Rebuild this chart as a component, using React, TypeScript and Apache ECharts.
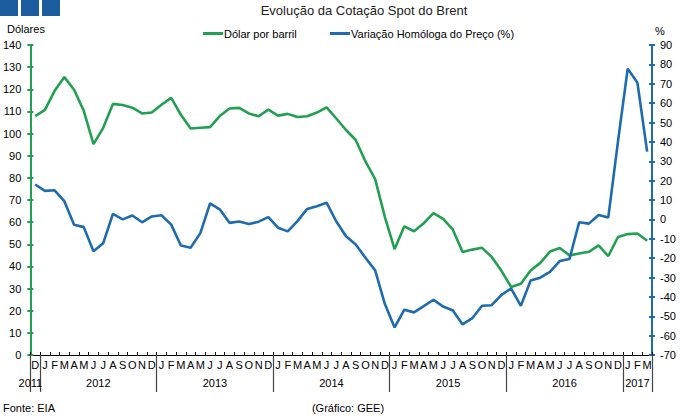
import React, { useEffect, useRef } from "react";
import * as echarts from "echarts";

const monthLabels = [
  "D",
  "J", "F", "M", "A", "M", "J", "J", "A", "S", "O", "N", "D",
  "J", "F", "M", "A", "M", "J", "J", "A", "S", "O", "N", "D",
  "J", "F", "M", "A", "M", "J", "J", "A", "S", "O", "N", "D",
  "J", "F", "M", "A", "M", "J", "J", "A", "S", "O", "N", "D",
  "J", "F", "M", "A", "M", "J", "J", "A", "S", "O", "N", "D",
  "J", "F", "M",
];

const brentPrice = [
  107.9,
  110.7, 119.3, 125.5, 119.8, 110.3, 95.2, 102.6, 113.4, 112.9, 111.7, 109.1, 109.5,
  113.0, 116.1, 108.5, 102.3, 102.6, 102.9, 107.9, 111.3, 111.6, 109.1, 107.8, 110.8,
  108.1, 108.9, 107.5, 107.8, 109.5, 111.8, 106.8, 101.6, 97.1, 87.4, 79.4, 62.3,
  47.8, 58.1, 55.9, 59.5, 64.1, 61.5, 56.6, 46.5, 47.6, 48.4, 44.3, 38.0,
  30.7, 32.2, 38.2, 41.6, 46.7, 48.3, 45.0, 45.8, 46.6, 49.5, 44.7, 53.3,
  54.6, 54.9, 51.6,
];

const yoyChange = [
  18.0,
  14.7, 15.0, 9.4, -2.8, -4.0, -16.4, -12.3, 2.8, 0.0, 2.0, -1.5, 1.5,
  2.1, -2.7, -13.5, -14.6, -7.1, 8.2, 5.2, -1.8, -1.1, -2.4, -1.2, 1.2,
  -4.3, -6.2, -0.9, 5.4, 6.8, 8.6, -1.1, -8.7, -13.0, -19.8, -26.3, -43.7,
  -55.8, -46.6, -48.0, -44.8, -41.5, -45.0, -47.0, -54.2, -51.0, -44.6, -44.3, -39.0,
  -35.7, -44.6, -31.6, -30.1, -27.1, -21.5, -20.5, -1.5, -2.2, 2.3, 1.0, 40.3,
  77.8, 70.5, 35.0,
];

const yearLabels = ["2011", "2012", "2013", "2014", "2015", "2016", "2017"];
const yearLabelPos = [0, 7, 19, 31, 43, 55, 62.5];
const yearBoundaries = [0, 1, 13, 25, 37, 49, 61, 64];

const seriesNames = ["Dólar por barril", "Variação Homóloga do Preço (%)"];

const FONT = "Arial, 'Liberation Sans', sans-serif";
const GREEN = "#22A052";
const BLUE = "#1E6BB0";

export default function App() {
  const ref = useRef<HTMLDivElement>(null);

  useEffect(() => {
    if (!ref.current) return;
    const chart = echarts.init(ref.current, undefined, { renderer: "svg" });
    const txt = { fontFamily: FONT, fontSize: 11, color: "#000" };

    chart.setOption({
      animation: false,
      backgroundColor: "#fff",
      textStyle: { fontFamily: FONT },
      grid: { left: 29, right: 28, top: 45, bottom: 62, containLabel: false },
      legend: [
        {
          data: [seriesNames[0]],
          left: 198,
          top: 23,
          icon: "rect",
          itemWidth: 20,
          itemHeight: 3,
          textStyle: { ...txt, padding: [0, 0, 0, -4] },
        },
        {
          data: [seriesNames[1]],
          left: 325,
          top: 23,
          icon: "rect",
          itemWidth: 20,
          itemHeight: 3,
          textStyle: { ...txt, padding: [0, 0, 0, -4] },
        },
      ],
      xAxis: [
        {
          type: "category",
          data: monthLabels,
          boundaryGap: true,
          axisLine: { show: true, onZero: false, lineStyle: { color: "#000", width: 1 } },
          axisTick: { show: true, inside: true, length: 3, lineStyle: { color: "#000" } },
          axisLabel: { ...txt, interval: 0, margin: 4 },
          splitLine: { show: false },
        },
        {
          type: "value",
          min: 0,
          max: 64,
          position: "bottom",
          axisLine: { show: false, onZero: false },
          axisTick: {
            show: true,
            length: 37,
            customValues: yearBoundaries,
            lineStyle: { color: "#444", width: 1.2 },
          },
          axisLabel: {
            ...txt,
            margin: 22,
            customValues: yearLabelPos,
            formatter: (v: number) => {
              const i = yearLabelPos.indexOf(v);
              return i >= 0 ? yearLabels[i] : "";
            },
          },
          splitLine: { show: false },
        },
      ],
      yAxis: [
        {
          type: "value",
          min: 0,
          max: 140,
          interval: 10,
          position: "left",
          axisLine: { show: true, onZero: false, lineStyle: { color: GREEN, width: 2 } },
          axisTick: { show: true, length: 3, lineStyle: { color: GREEN, width: 2 } },
          axisLabel: { ...txt, margin: 9 },
          splitLine: { show: false },
        },
        {
          type: "value",
          min: -70,
          max: 90,
          interval: 10,
          position: "right",
          axisLine: { show: true, onZero: false, lineStyle: { color: BLUE, width: 2 } },
          axisTick: { show: true, length: 3, lineStyle: { color: BLUE, width: 2 } },
          axisLabel: { ...txt, margin: 8 },
          splitLine: { show: false },
        },
        {
          type: "value",
          min: 0,
          max: 140,
          interval: 10,
          position: "left",
          axisLine: { show: false, onZero: false },
          axisTick: { show: true, inside: true, length: 3, lineStyle: { color: GREEN, width: 2 } },
          axisLabel: { show: false },
          splitLine: { show: false },
        },
        {
          type: "value",
          min: -70,
          max: 90,
          interval: 10,
          position: "right",
          axisLine: { show: false, onZero: false },
          axisTick: { show: true, inside: true, length: 3, lineStyle: { color: BLUE, width: 2 } },
          axisLabel: { show: false },
          splitLine: { show: false },
        },
      ],
      series: [
        {
          name: seriesNames[0],
          type: "line",
          data: brentPrice,
          xAxisIndex: 0,
          yAxisIndex: 0,
          showSymbol: false,
          symbol: "none",
          itemStyle: { color: GREEN },
          lineStyle: { color: GREEN, width: 2.6 },
          z: 3,
        },
        {
          name: seriesNames[1],
          type: "line",
          data: yoyChange,
          xAxisIndex: 0,
          yAxisIndex: 1,
          showSymbol: false,
          symbol: "none",
          itemStyle: { color: BLUE },
          lineStyle: { color: BLUE, width: 2.6 },
          z: 4,
        },
      ],
      graphic: [
        { type: "rect", left: 0, top: 0, shape: { width: 18, height: 16 }, style: { fill: "#1B5C9E" } },
        { type: "rect", left: 21, top: 0, shape: { width: 18, height: 16 }, style: { fill: "#1B5C9E" } },
        { type: "rect", left: 42, top: 0, shape: { width: 18, height: 16 }, style: { fill: "#1B5C9E" } },
        {
          type: "text",
          x: 364,
          y: 10,
          style: {
            text: "Evolução da Cotação Spot do Brent",
            fontFamily: FONT,
            fontSize: 13,
            fill: "#222",
            textAlign: "center",
            textVerticalAlign: "middle",
          },
        },
        {
          type: "text",
          x: 7,
          y: 29,
          style: { text: "Dólares", fontFamily: FONT, fontSize: 11, fill: "#000", textVerticalAlign: "middle" },
        },
        {
          type: "text",
          x: 655,
          y: 31,
          style: { text: "%", fontFamily: FONT, fontSize: 11, fill: "#000", textVerticalAlign: "middle" },
        },
        {
          type: "text",
          x: 3,
          y: 408,
          style: { text: "Fonte: EIA", fontFamily: FONT, fontSize: 11, fill: "#000", textVerticalAlign: "middle" },
        },
        {
          type: "text",
          x: 348,
          y: 408,
          style: {
            text: "(Gráfico: GEE)",
            fontFamily: FONT,
            fontSize: 11,
            fill: "#000",
            textAlign: "center",
            textVerticalAlign: "middle",
          },
        },
      ],
    });

    return () => chart.dispose();
  }, []);

  return (
    <div
      ref={ref}
      style={{ position: "fixed", left: 0, top: 0, width: 680, height: 417, background: "#fff" }}
    />
  );
}
